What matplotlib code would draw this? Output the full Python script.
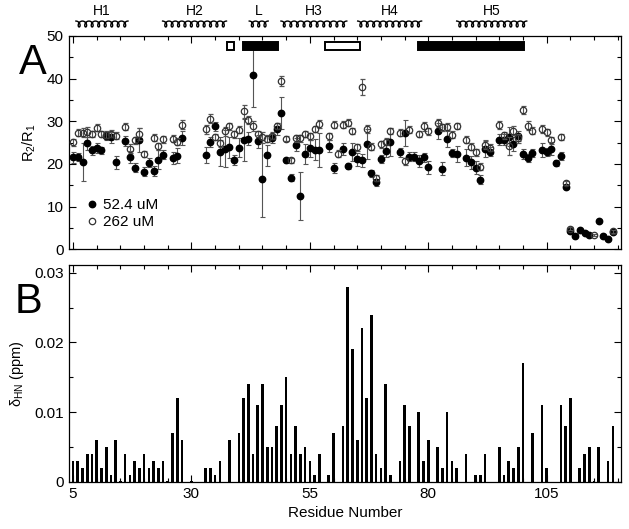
import matplotlib
matplotlib.use('Agg')
import matplotlib.pyplot as plt
import matplotlib.transforms as mtransforms
from matplotlib.patches import Rectangle
from matplotlib.lines import Line2D
from matplotlib.ticker import MultipleLocator
import numpy as np

plt.rcParams['font.family'] = ['Liberation Sans', 'DejaVu Sans']
plt.rcParams['mathtext.default'] = 'regular'

nan = np.nan
residues = np.arange(5, 120)

# R2/R1 at 52.4 uM (filled circles), residues 5..119
r2r1_low = [
    21.5, 21.6, 20.4, 24.8, 23.2, 23.7, 23.2, 26.5, 26.2, 20.4,   # 5-14
    nan, 25.3, 21.6, 19.1, 25.5, 18.2, 20.3, 18.4, 21.0, 22.2,    # 15-24
    nan, 21.4, 21.9, 26.0, nan, nan, nan, nan, 22.1, 25.2,        # 25-34
    28.8, 22.9, 23.6, 23.9, 21.0, 23.8, 25.6, 25.9, 40.8, 25.3,   # 35-44
    16.5, 22.0, 26.0, 28.2, 32.0, 20.8, 16.8, 24.5, 12.5, 22.3,   # 45-54
    23.7, 23.3, 23.3, nan, 24.2, 19.0, nan, 23.5, 19.5, 22.8,     # 55-64
    21.1, 20.8, 24.6, 17.8, 15.7, 21.2, 23.1, 25.2, nan, 22.7,    # 65-74
    27.3, 21.7, 21.7, 20.7, 21.5, 19.2, nan, 27.7, 18.9, 25.8,    # 75-84
    22.5, 22.3, nan, 21.4, 20.4, 19.1, 16.3, 23.5, 22.9, nan,     # 85-94
    25.7, 25.7, 26.4, 24.6, 26.5, 22.3, 21.4, 22.5, nan, 23.2,    # 95-104
    22.8, 23.6, 20.2, 21.9, 14.6, 4.2, 3.2, 4.5, 3.9, 3.3,        # 105-114
    nan, 6.6, 3.2, 2.4, 4.0,                                      # 115-119
]
r2r1_low_err = [
    1.2, 1.0, 4.5, 1.5, 1.0, 1.2, 0.8, 1.0, 1.2, 1.5,
    0.0, 1.2, 1.5, 1.0, 2.8, 1.0, 1.0, 1.2, 2.2, 1.0,
    0.0, 1.5, 1.8, 1.6, 0.0, 0.0, 0.0, 0.0, 1.8, 1.2,
    1.0, 3.5, 4.3, 2.5, 1.2, 2.3, 5.0, 1.5, 7.4, 1.5,
    9.0, 2.5, 1.0, 1.5, 3.8, 0.6, 0.8, 1.5, 5.6, 2.3,
    2.0, 2.5, 4.0, 0.0, 1.5, 1.2, 0.0, 1.5, 0.8, 2.2,
    1.5, 1.5, 3.5, 0.8, 0.8, 1.0, 1.5, 3.3, 0.0, 1.0,
    3.0, 1.0, 1.0, 1.5, 1.0, 1.5, 0.0, 1.8, 1.5, 1.8,
    1.0, 1.8, 0.0, 2.0, 1.5, 1.5, 1.0, 2.0, 1.0, 0.0,
    1.2, 1.2, 2.3, 1.6, 1.2, 1.2, 1.0, 1.0, 0.0, 1.6,
    1.0, 1.5, 0.8, 1.0, 0.5, 0.3, 0.3, 0.3, 0.3, 0.3,
    0.0, 0.3, 0.3, 0.3, 0.3,
]

# R2/R1 at 262 uM (open circles), residues 5..119
r2r1_high = [
    25.1, 27.3, 27.3, 27.4, 27.0, 28.5, 27.0, 26.8, 27.1, 26.6,   # 5-14
    nan, 28.7, 23.6, 25.5, 27.0, 22.3, nan, 26.1, 24.1, 25.8,     # 15-24
    nan, 25.9, 25.2, 29.2, nan, nan, nan, nan, 28.1, 30.6,        # 25-34
    26.3, 24.8, 27.6, 28.8, 26.9, 28.0, 32.3, 30.3, 28.8, 27.0,   # 35-44
    26.2, 25.9, 26.6, 28.9, 39.4, 25.9, 20.8, 26.0, 26.0, 27.0,   # 45-54
    26.5, 28.2, 29.4, nan, 26.5, 29.2, 22.4, 29.2, 29.7, 27.7,    # 55-64
    23.9, 38.0, 28.2, 24.0, 16.7, 24.6, 25.2, 27.7, nan, 27.3,    # 65-74
    20.6, 28.0, nan, 27.0, 28.8, 27.6, nan, 29.6, 28.6, 28.7,     # 75-84
    26.8, 28.9, nan, 25.7, 24.0, 22.7, 19.3, 24.4, 23.8, nan,     # 85-94
    29.1, 26.7, 24.2, 27.8, 26.0, 32.6, 29.0, 27.8, nan, 28.2,    # 95-104
    27.4, 25.5, nan, 26.3, 15.5, 4.8, nan, nan, nan, nan,         # 105-114
    3.3, nan, nan, nan, 4.2,                                      # 115-119
]
r2r1_high_err = [
    0.8, 0.8, 1.0, 1.2, 0.8, 0.8, 0.8, 0.8, 0.8, 0.8,
    0.0, 0.8, 1.0, 0.8, 1.5, 0.8, 0.0, 0.8, 0.8, 0.8,
    0.0, 0.8, 0.8, 1.0, 0.0, 0.0, 0.0, 0.0, 1.0, 1.0,
    0.8, 0.8, 1.0, 0.8, 0.8, 0.8, 1.5, 1.0, 1.2, 0.8,
    1.2, 0.8, 0.8, 0.8, 1.2, 0.6, 0.6, 0.8, 0.8, 0.8,
    0.8, 0.8, 1.0, 0.0, 0.8, 0.8, 0.8, 0.8, 0.8, 0.8,
    0.8, 1.8, 1.0, 0.8, 0.6, 0.8, 0.8, 0.8, 0.0, 0.8,
    0.8, 0.8, 0.0, 0.8, 1.0, 0.8, 0.0, 1.0, 0.8, 0.8,
    0.8, 0.8, 0.0, 0.8, 0.8, 0.8, 0.8, 1.0, 0.8, 0.0,
    1.0, 0.8, 2.0, 1.0, 1.0, 1.0, 1.0, 0.8, 0.0, 1.0,
    0.8, 0.8, 0.0, 0.8, 0.5, 0.4, 0.0, 0.0, 0.0, 0.0,
    0.3, 0.0, 0.0, 0.0, 0.3,
]

# chemical shift perturbation (ppm), residues 5..119
delta_hn = [
    0.003, 0.003, 0.002, 0.004, 0.004, 0.006, 0.002, 0.005, 0.001, 0.006,     # 5-14
    0.0002, 0.004, 0.001, 0.003, 0.002, 0.004, 0.002, 0.003, 0.002, 0.003,    # 15-24
    0.0002, 0.007, 0.012, 0.006, 0.0, 0.0002, 0.0, 0.0, 0.002, 0.002,         # 25-34
    0.001, 0.003, 0.0, 0.006, 0.0, 0.007, 0.012, 0.014, 0.004, 0.011,         # 35-44
    0.014, 0.005, 0.005, 0.008, 0.011, 0.015, 0.004, 0.008, 0.004, 0.005,     # 45-54
    0.003, 0.001, 0.004, 0.0, 0.001, 0.007, 0.0, 0.008, 0.028, 0.019,         # 55-64
    0.006, 0.022, 0.012, 0.024, 0.004, 0.002, 0.014, 0.001, 0.0, 0.003,       # 65-74
    0.011, 0.008, 0.0, 0.010, 0.003, 0.006, 0.0, 0.005, 0.002, 0.010,         # 75-84
    0.003, 0.002, 0.0, 0.004, 0.0, 0.001, 0.001, 0.004, 0.0, 0.0,             # 85-94
    0.005, 0.001, 0.003, 0.002, 0.005, 0.017, 0.0, 0.007, 0.0, 0.011,         # 95-104
    0.002, 0.0, 0.0, 0.011, 0.008, 0.012, 0.0, 0.002, 0.004, 0.005,           # 105-114
    0.0002, 0.005, 0.0, 0.003, 0.008,                                         # 115-119
]

# secondary structure (residue spans) drawn above panel A
helix_names = ['H1', 'H2', 'L', 'H3', 'H4', 'H5']
helix_start = [5.6, 23.9, 42.2, 48.9, 65.1, 86.0]
helix_end = [16.6, 37.4, 46.2, 62.8, 78.6, 100.8]

# marked regions (residue spans) in panel A
box_start = [37.6, 40.8, 58.3, 77.8]
box_end = [38.9, 48.3, 65.6, 100.2]
box_filled = [False, True, False, True]


def draw_helix(ax, x0, x1, y0):
    n = max(1, int(round((x1 - x0) / 1.36)))
    pitch = (x1 - x0) / n
    t = np.linspace(np.pi, np.pi + 2 * np.pi * n, 80 * n)
    x = x0 + pitch * (t - np.pi) / (2 * np.pi) - 0.5 * np.sin(t)
    y = y0 - 0.014 * np.cos(t)
    trans = mtransforms.blended_transform_factory(ax.transData, ax.transAxes)
    ax.plot(x, y, color='black', lw=1.0, transform=trans, clip_on=False)


fig = plt.figure(figsize=(6.29, 5.29), dpi=100)
axA = fig.add_axes([0.109, 0.529, 0.879, 0.403])
axB = fig.add_axes([0.109, 0.089, 0.879, 0.410])

# panel A
axA.errorbar(residues, r2r1_high, yerr=r2r1_high_err, fmt='o', ms=4.6,
             mfc='none', mec='#333333', mew=0.9, ecolor='#555555',
             elinewidth=0.8, capsize=1.8, capthick=0.8, zorder=3)
axA.errorbar(residues, r2r1_low, yerr=r2r1_low_err, fmt='o', ms=4.6,
             mfc='black', mec='black', ecolor='#555555',
             elinewidth=0.8, capsize=1.8, capthick=0.8, zorder=2)

for s, e, f in zip(box_start, box_end, box_filled):
    axA.add_patch(Rectangle((s, 46.8), e - s, 1.9, facecolor='black' if f else 'white',
                            edgecolor='black', lw=1.4, zorder=4))

trans = mtransforms.blended_transform_factory(axA.transData, axA.transAxes)
for name, s, e in zip(helix_names, helix_start, helix_end):
    draw_helix(axA, s, e, 1.056)
    axA.text((s + e) / 2, 1.118, name, transform=trans, ha='center', va='center', fontsize=10)

axA.set_xlim(4.05, 120.8)
axA.set_ylim(0, 50)
axA.set_ylabel('R$_2$/R$_1$', fontsize=10.5, labelpad=6)
axA.yaxis.set_major_locator(MultipleLocator(10))
axA.yaxis.set_minor_locator(MultipleLocator(5))
axA.xaxis.set_major_locator(MultipleLocator(25, offset=5))
axA.xaxis.set_minor_locator(MultipleLocator(5))
axA.tick_params(labelbottom=False)

handles = [Line2D([], [], ls='none', marker='o', ms=4.6, mfc='black', mec='black'),
           Line2D([], [], ls='none', marker='o', ms=4.6, mfc='none', mec='#333333', mew=0.9)]
axA.legend(handles, ['52.4 uM', '262 uM'], loc='lower left', bbox_to_anchor=(0.01, 0.03),
           frameon=False, fontsize=11, handlelength=0.6, handletextpad=0.4, labelspacing=0.2)

# panel B
axB.bar(residues, delta_hn, width=0.55, color='black')
axB.set_xlim(4.05, 120.8)
axB.set_ylim(0, 0.0311)
axB.set_ylabel('δ$_{HN}$ (ppm)', fontsize=10.5, labelpad=6)
axB.set_xlabel('Residue Number', fontsize=11)
axB.set_yticks([0, 0.01, 0.02, 0.03])
axB.set_yticklabels(['0', '0.01', '0.02', '0.03'])
axB.yaxis.set_minor_locator(MultipleLocator(0.005))
axB.xaxis.set_major_locator(MultipleLocator(25, offset=5))
axB.xaxis.set_minor_locator(MultipleLocator(5))

for ax in (axA, axB):
    ax.tick_params(which='both', direction='in', top=True, right=True, labelsize=11)
    ax.tick_params(which='major', length=5, width=0.8)
    ax.tick_params(which='minor', length=3, width=0.8)
    for sp in ax.spines.values():
        sp.set_linewidth(0.9)

fig.text(0.052, 0.88, 'A', fontsize=30, ha='center', va='center')
fig.text(0.045, 0.43, 'B', fontsize=30, ha='center', va='center')

fig.savefig('out.png', dpi=100)
